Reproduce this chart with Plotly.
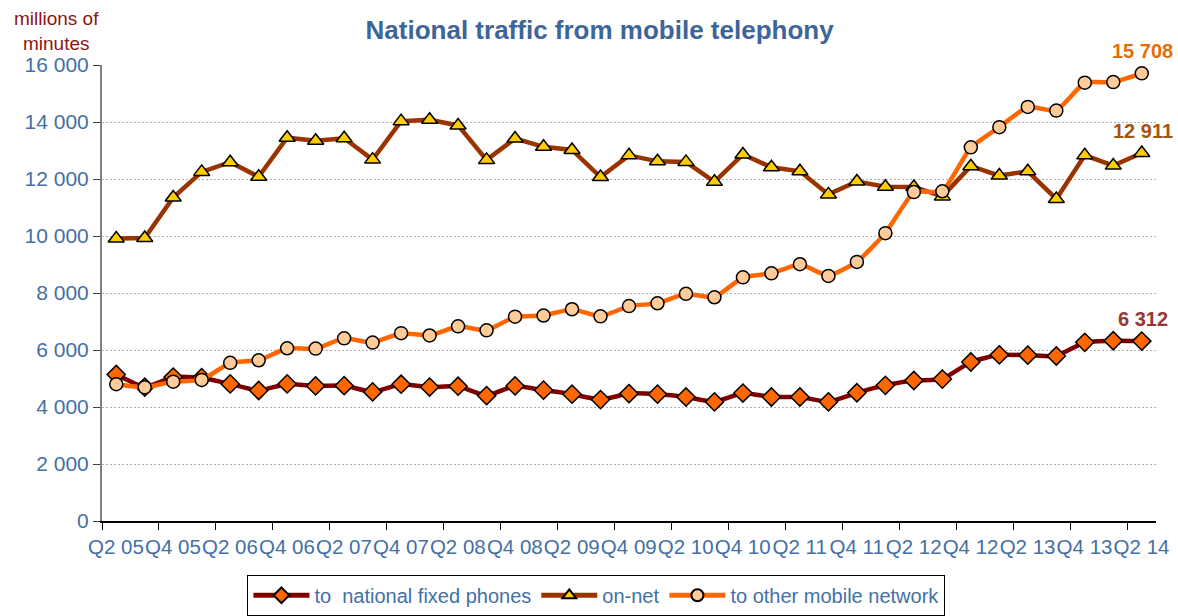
import plotly.graph_objects as go

# ---- data ----
quarters = list(range(37))  # Q2 2005 ... Q2 2014
tick_labels = ["Q2 05", "Q4 05", "Q2 06", "Q4 06", "Q2 07", "Q4 07", "Q2 08", "Q4 08",
               "Q2 09", "Q4 09", "Q2 10", "Q4 10", "Q2 11", "Q4 11", "Q2 12", "Q4 12",
               "Q2 13", "Q4 13", "Q2 14"]

fixed_phones = [5140, 4700, 5050, 5030, 4810, 4580, 4810, 4740, 4750, 4530, 4800, 4700,
                4730, 4400, 4740, 4590, 4450, 4260, 4470, 4450, 4350, 4180, 4490, 4350,
                4350, 4180, 4500, 4760, 4930, 4980, 5580, 5830, 5820, 5790, 6270, 6325, 6312]

on_net = [9910, 9930, 11350, 12250, 12590, 12080, 13450, 13340, 13430, 12680, 14030, 14080,
          13880, 12670, 13420, 13130, 13020, 12070, 12830, 12620, 12600, 11900, 12860, 12410,
          12270, 11460, 11910, 11730, 11720, 11390, 12450, 12120, 12270, 11300, 12830, 12470, 12911]

other_mobile = [4800, 4690, 4890, 4950, 5550, 5640, 6060, 6050, 6410, 6260, 6590, 6510,
                6830, 6690, 7170, 7210, 7430, 7180, 7540, 7640, 7970, 7850, 8550, 8690,
                9010, 8600, 9090, 10100, 11540, 11570, 13110, 13820, 14530, 14400, 15380, 15400, 15708]

y_ticks = [0, 2000, 4000, 6000, 8000, 10000, 12000, 14000, 16000]
y_tick_text = ["0", "2 000", "4 000", "6 000", "8 000", "10 000", "12 000", "14 000", "16 000"]

series_names = ["to  national fixed phones", "on-net", "to other mobile network"]
end_labels = ["6 312", "12 911", "15 708"]

FONT = "Liberation Sans, Arial, sans-serif"
BLUE = "#4470A5"

fig = go.Figure()
fig.add_trace(go.Scatter(
    x=quarters, y=fixed_phones, name=series_names[0], mode="lines+markers",
    line=dict(color="#800000", width=4.5, shape="spline", smoothing=0.4),
    marker=dict(symbol="diamond", size=14, color="#FF6600", line=dict(color="black", width=1.5)),
))
fig.add_trace(go.Scatter(
    x=quarters, y=on_net, name=series_names[1], mode="lines+markers",
    line=dict(color="#993300", width=4.5),
    marker=dict(symbol="triangle-up", size=14, color="#FFCC00", line=dict(color="black", width=1.5)),
))
fig.add_trace(go.Scatter(
    x=quarters, y=other_mobile, name=series_names[2], mode="lines+markers",
    line=dict(color="#FF6600", width=4.5, shape="spline", smoothing=0.4),
    marker=dict(symbol="circle", size=13, color="#FFCC99", line=dict(color="black", width=1.5)),
))

# end-value labels
label_colors = ["#953735", "#A8520F", "#E46C0A"]
for series, txt, col in zip([fixed_phones, on_net, other_mobile], end_labels, label_colors):
    fig.add_annotation(x=quarters[-1], y=series[-1], text="<b>" + txt + "</b>",
                       showarrow=False, yshift=22, xshift=1,
                       font=dict(family=FONT, size=20, color=col))

# y-axis unit title
fig.add_annotation(xref="paper", yref="paper", x=-0.0427, y=1.074,
                   xanchor="center", yanchor="middle",
                   text="millions of<br>minutes", showarrow=False,
                   font=dict(family=FONT, size=19, color="#8E1414"), align="center")

fig.update_layout(
    width=1178, height=616,
    margin=dict(l=102, r=22, t=65, b=95, autoexpand=False),
    paper_bgcolor="white", plot_bgcolor="white",
    title=dict(text="<b>National traffic from mobile telephony</b>",
               x=0.509, xref="container", y=0.951, yref="container",
               xanchor="center", yanchor="middle",
               font=dict(family=FONT, size=26, color="#3D6598")),
    font=dict(family=FONT, color=BLUE),
    showlegend=True,
    legend=dict(orientation="h", xref="paper", yref="paper", x=0.138, y=-0.118,
                xanchor="left", yanchor="top",
                bordercolor="#000000", borderwidth=1, bgcolor="white",
                font=dict(family=FONT, size=20, color=BLUE),
                itemwidth=56, itemsizing="constant"),
    xaxis=dict(range=[-0.5, 36.5], tickmode="array",
               tickvals=[-0.5 + 2 * k for k in range(len(tick_labels))],
               ticktext=tick_labels, ticklabelshift=14, tickangle=0,
               ticks="outside", ticklen=7, tickcolor="black", tickwidth=1,
               showline=True, linecolor="black", linewidth=1.5,
               showgrid=False, zeroline=False,
               tickfont=dict(family=FONT, size=20.5, color=BLUE)),
    yaxis=dict(range=[0, 16000], tickmode="array", tickvals=y_ticks, ticktext=y_tick_text,
               ticks="outside", ticklen=7, tickcolor="#404040", tickwidth=1,
               showline=True, linecolor="#808080", linewidth=2,
               showgrid=True, gridcolor="#B0B0B0", griddash="2px,2px", gridwidth=1,
               zeroline=False,
               tickfont=dict(family=FONT, size=21, color=BLUE)),
)

fig.write_html("out.html", include_plotlyjs=True, config={"displayModeBar": False},
               post_script="document.body.style.margin='0';document.body.style.overflow='hidden';")
